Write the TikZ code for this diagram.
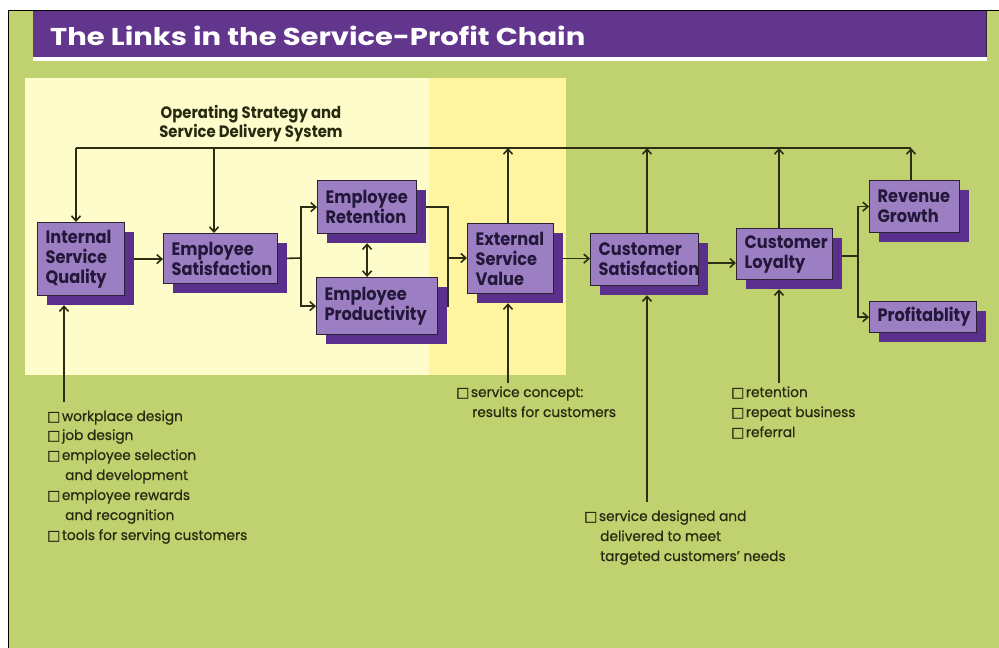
\documentclass[tikz,border=0pt]{standalone}
\usepackage{fontspec}
\usepackage{graphicx}
\setmainfont{Poppins}
\newfontfamily\pfont[FakeStretch=0.9]{Poppins}
\newfontfamily\lfont[FakeStretch=0.98,FakeBold=0.6]{Poppins}
\newfontfamily\symfont[FakeBold=0.8]{DejaVu Sans}
\usetikzlibrary{arrows.meta,shadows,calc}
\definecolor{bggreen}{HTML}{C0D270}
\definecolor{paleyellow}{HTML}{FFFCCB}
\definecolor{brightyellow}{HTML}{FFF5A0}
\definecolor{titlepurple}{HTML}{61368C}
\definecolor{boxface}{HTML}{9C7EC2}
\definecolor{shadowpurple}{HTML}{5B308C}
\definecolor{boxline}{HTML}{2B2233}
\definecolor{boxtext}{HTML}{24183A}
\definecolor{wirec}{HTML}{2B2E12}
\definecolor{darktext}{HTML}{262A10}
\pgfdeclarelayer{bg}
\pgfdeclarelayer{wires}
\pgfsetlayers{bg,wires,main}
\newcommand{\cb}{{\symfont\fontsize{14}{14}\selectfont □}\hspace{1.5pt}}
\begin{document}
\begin{tikzpicture}[x=1pt,y=-1pt,
  chainbox/.style 2 args={draw=boxline, line width=1.2pt, fill=boxface, anchor=north west,
    inner xsep=8pt, inner ysep=0pt, align=left, text width=#1, minimum height=#2,
    font=\pfont\bfseries\fontsize{18}{20}\selectfont, text=boxtext,
    drop shadow={shadow xshift=9pt, shadow yshift=-9pt, fill=shadowpurple, opacity=1}},
  wire/.style={draw=wirec, line width=1.6pt},
  arr/.style={wire, -{Straight Barb[length=5pt,width=9pt]}},
  darr/.style={wire, {Straight Barb[length=5pt,width=9pt]}-{Straight Barb[length=5pt,width=9pt]}},
  item/.style={anchor=base west, inner sep=0pt, font=\lfont\fontsize{14}{20}\selectfont, text=darktext}]
\useasboundingbox (0,0) rectangle (999,648);
\begin{pgfonlayer}{bg}
  \fill[white] (0,0) rectangle (999,648);
  \fill[bggreen] (8,10) rectangle (999,648);
  \draw[black, line width=1pt] (8,648) -- (8,10) -- (999,10);
  \fill[titlepurple] (33,11) rectangle (986,57);
  \draw[boxline, line width=1pt] (986,11) -- (986,57);
  \fill[white] (33,57) rectangle (987,61);
  \fill[paleyellow] (25,78) rectangle (429,375);
  \fill[brightyellow] (429,78) rectangle (566,375);
\end{pgfonlayer}

\node[anchor=base west, inner sep=0pt, text=white] (title) at (50,45)
  {\resizebox{535pt}{19.5pt}{\bfseries The Links in the Service-Profit Chain}};
\node[font=\pfont\bfseries\fontsize{16.5}{19}\selectfont, align=center, text=darktext] (ops) at (251,124)
  {Operating Strategy and\\Service Delivery System};

\node[chainbox={71pt}{73pt}] (isq) at (37,222) {Internal\\Service\\Quality};
\node[chainbox={98pt}{50pt}] (es) at (163,233) {Employee\\Satisfaction};
\node[chainbox={83pt}{53pt}] (er) at (317,180) {Employee\\Retention};
\node[chainbox={105pt}{57pt}] (ep) at (316,277) {Employee\\Productivity};
\node[chainbox={70pt}{70pt}] (esv) at (467,223) {External\\Service\\Value};
\node[chainbox={92pt}{52pt}] (cs) at (590,233) {Customer\\Satisfaction};
\node[chainbox={80pt}{51pt}] (cl) at (736,228) {Customer\\Loyalty};
\node[chainbox={74pt}{52pt}] (rg) at (869,180) {Revenue\\Growth};
\node[chainbox={91pt}{31pt}] (pr) at (869,301) {Profitablity};

\node[item] (l1) at (47,421) {\cb workplace design};
\node[item] (l2) at (47,440) {\cb job design};
\node[item] (l3) at (47,460) {\cb employee selection};
\node[item] (l4) at (65,480) {and development};
\node[item] (l5) at (47,500) {\cb employee rewards};
\node[item] (l6) at (65,520) {and recognition};
\node[item] (l7) at (47,540) {\cb tools for serving customers};
\node[item] (m1) at (456,397) {\cb service concept:};
\node[item] (m2) at (472,417) {results for customers};
\node[item] (r1) at (731,397) {\cb retention};
\node[item] (r2) at (731,417) {\cb repeat business};
\node[item] (r3) at (731,437) {\cb referral};
\node[item] (d1) at (584,521) {\cb service designed and};
\node[item] (d2) at (600,541) {delivered to meet};
\node[item] (d3) at (600,561) {targeted customers’ needs};

\begin{pgfonlayer}{wires}
  \coordinate (tl) at (76,148);
  \coordinate (tr) at (911,148);
  \coordinate (tes) at (214,148);
  \coordinate (t1) at (508,148);
  \coordinate (t2) at (647,148);
  \coordinate (t3) at (779,148);
  \draw[wire] (tl) -- (tr);
  \draw[arr] (tl) -- (tl |- isq.north);
  \draw[arr] (tes) -- (tes |- es.north);
  \draw[arr] (t1 |- esv.north) -- (t1);
  \draw[arr] (t2 |- cs.north) -- (t2);
  \draw[arr] (t3 |- cl.north) -- (t3);
  \draw[arr] (tr |- rg.north) -- (tr);
  % chain
  \draw[arr] (isq.east) -- (isq.east -| es.west);
  \coordinate (s1) at (301,258);
  \draw[wire] (es.east) -- (s1);
  \draw[arr] (s1) |- (er.west);
  \draw[arr] (s1) |- (ep.west);
  \draw[darr] ([yshift=-9pt]er.south) -- (er.south |- ep.north);
  \coordinate (j2) at (448,258);
  \draw[wire] (er.east) -| (j2);
  \draw[wire] (ep.east) -| (j2);
  \draw[arr] (j2) -- (j2 -| esv.west);
  \draw[arr] (esv.east) -- (esv.east -| cs.west);
  \coordinate (c2) at (700,263);
  \draw[arr] (cs.east |- c2) -- (cl.west |- c2);
  \coordinate (s3) at (858,256);
  \draw[wire] (cl.east |- s3) -- (s3);
  \draw[arr] (s3) |- (rg.west);
  \draw[arr] (s3) |- (pr.west);
  % inputs
  \coordinate (b0) at (64,402);
  \coordinate (b1) at (508,383);
  \coordinate (b2) at (647,502);
  \coordinate (b3) at (779,383);
  \draw[arr] (b0) -- ($(b0 |- isq.south)+(0,9)$);
  \draw[arr] (b1) -- ($(b1 |- esv.south)+(0,9)$);
  \draw[arr] (b2) -- ($(b2 |- cs.south)+(0,9)$);
  \draw[arr] (b3) -- ($(b3 |- cl.south)+(0,9)$);
\end{pgfonlayer}
\end{tikzpicture}
\end{document}
